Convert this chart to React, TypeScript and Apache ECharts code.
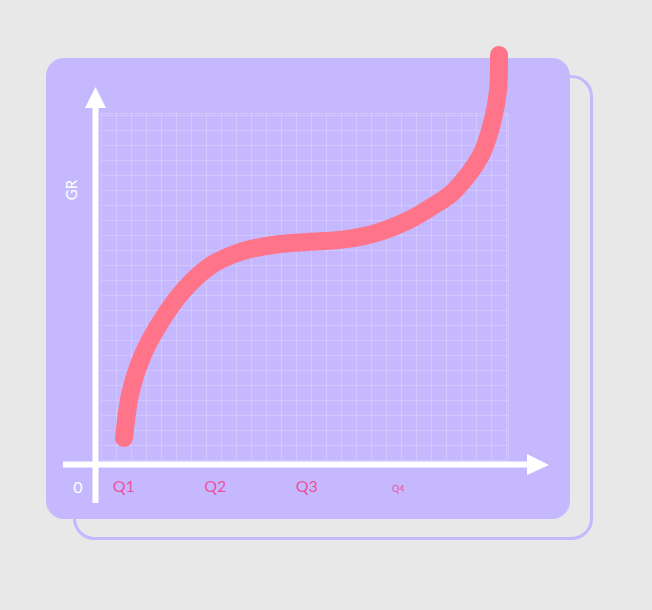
import React, { useEffect, useRef } from 'react';
import * as echarts from 'echarts';

// quarters along the bottom
const quarters = ['Q1', 'Q2', 'Q3', 'Q4'];
const originLabel = '0';
const yName = 'GR';

// growth curve, in grid cells
const curveX = [1.53, 1.93, 2.73, 3.93, 5.47, 7.27, 9.27, 11.47, 13.73, 15.93, 18.13, 20.4, 22.13, 23.6, 25.27, 26.07, 26.47, 26.53];
const curveY = [1.47, 4.33, 6.87, 9.13, 11.27, 12.93, 13.87, 14.33, 14.53, 14.67, 15.07, 15.93, 16.93, 18.0, 20.2, 22.47, 24.67, 27.0];

const CARD = '#c6b8fe';
const PINK = '#ff7489';
const LABEL = '#ea529c';
const FONT = 'Lato, "Noto Sans", sans-serif';

// catmull-rom through the mapped points -> svg path
function smoothPath(pts: number[][]): string {
  let d = `M${pts[0][0]},${pts[0][1]}`;
  for (let i = 0; i < pts.length - 1; i++) {
    const p0 = pts[i - 1] || pts[i];
    const p1 = pts[i];
    const p2 = pts[i + 1];
    const p3 = pts[i + 2] || p2;
    const c1x = p1[0] + (p2[0] - p0[0]) / 6;
    const c1y = p1[1] + (p2[1] - p0[1]) / 6;
    const c2x = p2[0] - (p3[0] - p1[0]) / 6;
    const c2y = p2[1] - (p3[1] - p1[1]) / 6;
    d += ` C${c1x},${c1y} ${c2x},${c2y} ${p2[0]},${p2[1]}`;
  }
  return d;
}

const App: React.FC = () => {
  const chartRef = useRef<HTMLDivElement>(null);

  useEffect(() => {
    if (!chartRef.current) return;
    const chart = echarts.init(chartRef.current, undefined, { renderer: 'svg' });

    const option: echarts.EChartsOption = {
      animation: false,
      backgroundColor: '#e8e8e8',
      grid: [
        { left: 101, top: 113, width: 407, height: 347 },
        { left: 78, top: 400, width: 366, height: 63 },
      ],
      xAxis: [
        {
          type: 'value',
          gridIndex: 0,
          min: 0,
          max: 27.13,
          interval: 1,
          axisLine: { show: false },
          axisTick: { show: false },
          axisLabel: { show: false },
          splitLine: { show: true, lineStyle: { color: 'rgba(255,255,255,0.2)', width: 1 } },
        },
        {
          type: 'category',
          gridIndex: 1,
          data: quarters,
          axisLine: { show: false },
          axisTick: { show: false },
          splitLine: { show: false },
          axisLabel: {
            margin: 14,
            color: LABEL,
            fontFamily: FONT,
            fontSize: 16,
            formatter: (v: string) => (v === 'Q4' ? `{s|${v}}` : v),
            rich: {
              s: { fontSize: 9, color: LABEL, fontFamily: FONT, padding: [7, 0, 0, 0] },
            },
          },
        },
      ],
      yAxis: [
        {
          type: 'value',
          gridIndex: 0,
          min: 0,
          max: 23.13,
          interval: 1,
          axisLine: { show: false },
          axisTick: { show: false },
          axisLabel: { show: false },
          splitLine: { show: true, lineStyle: { color: 'rgba(255,255,255,0.2)', width: 1 } },
        },
        {
          type: 'value',
          gridIndex: 1,
          show: false,
        },
      ],
      graphic: [
        {
          type: 'rect',
          z: -20,
          shape: { x: 74.5, y: 76.5, width: 517, height: 462, r: 20 },
          style: { fill: 'none', stroke: CARD, lineWidth: 3 },
        },
        {
          type: 'rect',
          z: -10,
          shape: { x: 46, y: 58, width: 524, height: 461, r: 18 },
          style: { fill: CARD },
        },
        {
          type: 'line',
          z: 10,
          shape: { x1: 95.5, y1: 104, x2: 95.5, y2: 503 },
          style: { stroke: '#fff', lineWidth: 6 },
        },
        {
          type: 'polygon',
          z: 10,
          shape: { points: [[95.5, 87], [106, 108], [85, 108]] },
          style: { fill: '#fff' },
        },
        {
          type: 'line',
          z: 10,
          shape: { x1: 63, y1: 464.5, x2: 530, y2: 464.5 },
          style: { stroke: '#fff', lineWidth: 6 },
        },
        {
          type: 'polygon',
          z: 10,
          shape: { points: [[549, 465], [527, 454], [527, 475]] },
          style: { fill: '#fff' },
        },
        {
          type: 'text',
          z: 10,
          x: 78,
          y: 486,
          style: {
            text: originLabel,
            fill: '#fff',
            font: `16px ${FONT}`,
            align: 'center',
            verticalAlign: 'middle',
          },
        },
        {
          type: 'text',
          z: 10,
          x: 71,
          y: 190,
          rotation: Math.PI / 2,
          style: {
            text: yName,
            fill: '#fff',
            font: `15px ${FONT}`,
            align: 'center',
            verticalAlign: 'middle',
          },
        },
      ],
      series: [
        {
          type: 'custom',
          coordinateSystem: 'cartesian2d',
          xAxisIndex: 0,
          yAxisIndex: 0,
          clip: false,
          z: 5,
          data: [[curveX[0], curveY[0]]],
          renderItem: (_params: any, api: any) => {
            const pts = curveX.map((x, i) => api.coord([x, curveY[i]]));
            return {
              type: 'path',
              shape: { pathData: smoothPath(pts) },
              style: {
                fill: 'none',
                stroke: PINK,
                lineWidth: 18,
                lineCap: 'round',
                lineJoin: 'round',
              },
            };
          },
        } as any,
      ],
    };

    chart.setOption(option);
    return () => {
      chart.dispose();
    };
  }, []);

  return (
    <div
      ref={chartRef}
      style={{ position: 'absolute', left: 0, top: 0, width: 652, height: 610 }}
    />
  );
};

export default App;
